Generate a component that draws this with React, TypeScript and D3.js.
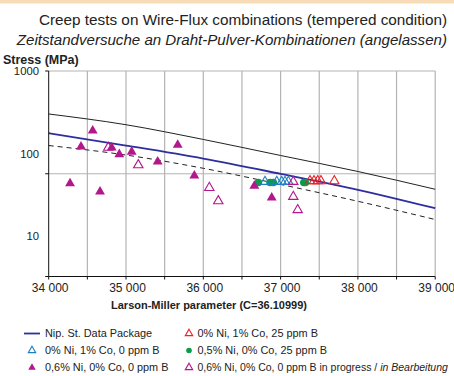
import React from 'react';
import * as d3 from 'd3';

// ---- data ----
const xTickValues = [34000, 34500, 35000, 35500, 36000, 36500, 37000, 37500, 38000, 38500, 39000];
const xTickLabels = [34000, 35000, 36000, 37000, 38000, 39000];
const yTickLabels = [1000, 100, 10];

const curveLMP = [34000, 35000, 36000, 37000, 38000, 39000];
const nipStData = [175, 124, 86, 56.1, 35.9, 21.4];
const upperBand = [300, 222, 147, 93.8, 59.9, 36.4];
const lowerBand = [124, 95, 65.5, 41.7, 26, 15.6];

const ni06LMP = [34276, 34418, 34569, 34664, 34815, 34913, 35074, 35410, 35669, 35884, 36660, 36885];
const ni06Stress = [43, 120, 188, 34, 117, 97, 104, 78.8, 126, 53.2, 39.9, 28.7];

const ni06ProgLMP = [34771, 35159, 36078, 36194, 37164, 37221, 37164];
const ni06ProgStress = [117, 71.8, 38, 26.2, 29.6, 20.4, 45];

const co1B0LMP = [36798, 36950, 37014, 37057, 37100];
const co1B0Stress = [45, 45, 45, 45, 45];

const ni05LMP = [36712, 36863, 36906, 37300, 37320];
const ni05Stress = [44, 44, 44, 44, 44];

const co1B25LMP = [37380, 37432, 37480, 37522, 37695];
const co1B25Stress = [45.9, 45.9, 45.9, 45.9, 45.9];

const FONT = '"Liberation Sans", Arial, Helvetica, sans-serif';
const MAGENTA = '#b3178c';
const BLUE = '#1f7fc4';
const GREEN = '#0b9b4a';
const RED = '#e8232b';
const NAVY = '#2e2e9e';

export default function App() {
  const W = 454, H = 376;
  const x0 = 48.7, x1 = 435.2, yTop = 71, yBot = 276.5;
  const x = d3.scaleLinear().domain([34000, 39000]).range([x0, x1]);
  const pxPerDecade = 82.2;
  const yMin = 1000 / Math.pow(10, (yBot - yTop) / pxPerDecade);
  const y = d3.scaleLog().domain([yMin, 1000]).range([yBot, yTop]);
  const yMid = Math.sqrt(yMin * 1000);

  const line = d3.line<[number, number]>()
    .x(d => x(d[0])).y(d => y(d[1]))
    .curve(d3.curveMonotoneX);
  const mk = (vals: number[]) => curveLMP.map((l, i) => [l, vals[i]] as [number, number]);

  const tri = d3.symbol(d3.symbolTriangle, 42)();
  const triOpen = d3.symbol(d3.symbolTriangle, 38)();
  const triLeg = d3.symbol(d3.symbolTriangle, 24)();

  const gridColor = '#b4b4b4';

  const legend1 = [
    { type: 'line', label: 'Nip. St. Data Package' },
    { type: 'blue', label: '0% Ni, 1% Co, 0 ppm B' },
    { type: 'mag', label: '0,6% Ni, 0% Co, 0 ppm B' },
  ];
  const legend2 = [
    { type: 'red', label: '0% Ni, 1% Co, 25 ppm B' },
    { type: 'green', label: '0,5% Ni, 0% Co, 25 ppm B' },
    { type: 'magOpen', label: '0,6% Ni, 0% Co, 0 ppm B in progress / ' },
  ];
  const legY = [333.5, 350.5, 367.5];

  const legendMarker = (type: string, cx: number, cy: number) => {
    switch (type) {
      case 'line':
        return <line x1={cx - 8} x2={cx + 8} y1={cy} y2={cy} stroke={NAVY} strokeWidth={1.8} />;
      case 'blue':
        return <path d={triLeg!} transform={`translate(${cx},${cy})`} fill="none" stroke={BLUE} strokeWidth={1.1} />;
      case 'red':
        return <path d={triLeg!} transform={`translate(${cx},${cy})`} fill="none" stroke={RED} strokeWidth={1.1} />;
      case 'magOpen':
        return <path d={triLeg!} transform={`translate(${cx},${cy})`} fill="none" stroke={MAGENTA} strokeWidth={1.1} />;
      case 'mag':
        return <path d={triLeg!} transform={`translate(${cx},${cy})`} fill={MAGENTA} />;
      case 'green':
        return <circle cx={cx} cy={cy} r={2.8} fill={GREEN} />;
    }
    return null;
  };

  return (
    <svg width={W} height={H} style={{ position: 'absolute', left: 0, top: 0, background: '#fff' }} fontFamily={FONT}>
      <rect x={0} y={0} width={W} height={3.5} fill="#f8dcb8" />
      <text x={447} y={25} textAnchor="end" fontSize={15.3} fill="#222">Creep tests on Wire-Flux combinations (tempered condition)</text>
      <text x={447} y={45} textAnchor="end" fontSize={15.1} fontStyle="italic" fill="#222">Zeitstandversuche an Draht-Pulver-Kombinationen (angelassen)</text>
      <text x={3} y={63.5} fontSize={12.5} fontWeight="bold" fill="#222">Stress (MPa)</text>

      {/* grid */}
      {xTickValues.slice(1).map(v => (
        <line key={'gx' + v} x1={x(v)} x2={x(v)} y1={yTop} y2={yBot} stroke={gridColor} strokeWidth={1.2} />
      ))}
      <line x1={x0} x2={x1} y1={yTop} y2={yTop} stroke={gridColor} strokeWidth={1.2} />
      <line x1={x0} x2={x1} y1={y(yMid)} y2={y(yMid)} stroke={gridColor} strokeWidth={1.2} />

      {/* curves */}
      <path d={line(mk(upperBand))!} fill="none" stroke="#222" strokeWidth={1} />
      <path d={line(mk(lowerBand))!} fill="none" stroke="#222" strokeWidth={1} strokeDasharray="5,4" />
      <path d={line(mk(nipStData))!} fill="none" stroke={NAVY} strokeWidth={1.8} />

      {/* markers */}
      {ni05LMP.map((l, i) => (
        <circle key={'g' + i} cx={x(l)} cy={y(ni05Stress[i])} r={3.8} fill={GREEN} />
      ))}
      {co1B0LMP.map((l, i) => (
        <path key={'b' + i} d={triOpen!} transform={`translate(${x(l)},${y(co1B0Stress[i])})`} fill="none" stroke={BLUE} strokeWidth={1.1} />
      ))}
      {ni06ProgLMP.map((l, i) => (
        <path key={'mo' + i} d={triOpen!} transform={`translate(${x(l)},${y(ni06ProgStress[i])})`} fill="none" stroke={MAGENTA} strokeWidth={1.1} />
      ))}
      {co1B25LMP.map((l, i) => (
        <path key={'r' + i} d={triOpen!} transform={`translate(${x(l)},${y(co1B25Stress[i])})`} fill="none" stroke={RED} strokeWidth={1.1} />
      ))}
      {ni06LMP.map((l, i) => (
        <path key={'m' + i} d={tri!} transform={`translate(${x(l)},${y(ni06Stress[i])})`} fill={MAGENTA} />
      ))}

      {/* axes */}
      <line x1={x0} x2={x0} y1={yTop} y2={yBot} stroke="#111" strokeWidth={1} />
      <line x1={x0} x2={x1} y1={yBot} y2={yBot} stroke="#111" strokeWidth={1} />
      {[1000, yMid, yMin].map((v, i) => (
        <line key={'yt' + i} x1={x0 - 3.5} x2={x0} y1={y(v)} y2={y(v)} stroke="#111" strokeWidth={1} />
      ))}
      {xTickValues.map(v => (
        <line key={'xt' + v} x1={x(v)} x2={x(v)} y1={yBot} y2={yBot + 3} stroke="#111" strokeWidth={1} />
      ))}
      {yTickLabels.map(v => (
        <text key={'yl' + v} x={39} y={y(v) + 0.5} dy="0.35em" textAnchor="end" fontSize={11.3} fill="#222">{v}</text>
      ))}
      {xTickLabels.map(v => (
        <text key={'xl' + v} x={x(v) + 1.5} y={292} textAnchor="middle" fontSize={12} fill="#222">{d3.format(',')(v).replace(',', ' ')}</text>
      ))}
      <text x={209} y={309} textAnchor="middle" fontSize={11} fontWeight="bold" fill="#222">Larson-Miller parameter (C=36.10999)</text>

      {/* legend */}
      {legend1.map((d, i) => (
        <g key={'l1' + i}>
          {legendMarker(d.type, 32, legY[i])}
          <text x={45} y={legY[i]} dy="0.35em" fontSize={10.9} fill="#222">{d.label}</text>
        </g>
      ))}
      {legend2.map((d, i) => (
        <g key={'l2' + i}>
          {legendMarker(d.type, 189, legY[i])}
          <text x={197.5} y={legY[i]} dy="0.35em" fontSize={d.type === 'magOpen' ? 10.5 : 10.9} fill="#222">
            {d.label}
            {d.type === 'magOpen' ? <tspan fontStyle="italic">in Bearbeitung</tspan> : null}
          </text>
        </g>
      ))}
    </svg>
  );
}
